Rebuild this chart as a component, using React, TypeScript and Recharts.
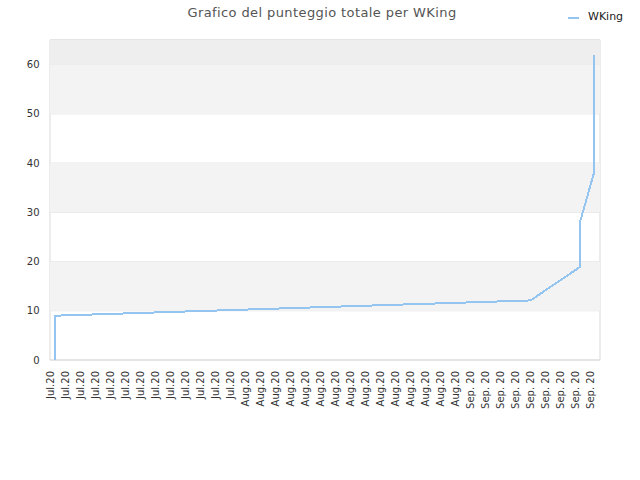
import { LineChart, Line, XAxis, YAxis, CartesianGrid, ReferenceArea, Legend } from "recharts";

// x labels, one per tick (month.year)
const tickLabels = [
  "Jul.20", "Jul.20", "Jul.20", "Jul.20", "Jul.20", "Jul.20", "Jul.20",
  "Jul.20", "Jul.20", "Jul.20", "Jul.20", "Jul.20", "Jul.20",
  "Aug.20", "Aug.20", "Aug.20", "Aug.20", "Aug.20", "Aug.20", "Aug.20", "Aug.20",
  "Aug.20", "Aug.20", "Aug.20", "Aug.20", "Aug.20", "Aug.20", "Aug.20",
  "Sep. 20", "Sep. 20", "Sep. 20", "Sep. 20", "Sep. 20", "Sep. 20", "Sep. 20",
  "Sep. 20", "Sep. 20",
];

// position of each reading along the time axis (in tick units) and its total score
const timePos = [0, 0, 31.7, 35.0, 35.0, 35.93, 35.93, 35.93];
const scores = [0, 9, 12.1, 18.9, 28, 38, 49, 62];

const yTicks = [0, 10, 20, 30, 40, 50, 60];
const yMax = 65;

const data = timePos.map((pos, i) => ({ pos, WKing: scores[i] }));
const xTicks = tickLabels.map((_, i) => i);
// a third of a tick step of free space on either side of the first/last tick
const xPad = 1 / 3;

const XTick = ({ x, y, payload }: any) => {
  const tx = x - 1.5;
  const ty = y + 11;
  return (
    <text x={tx} y={ty} transform={`rotate(-90 ${tx} ${ty})`} textAnchor="end" fontSize={10} fill="#333" fontFamily="DejaVu Sans">
      {tickLabels[payload.value]}
    </text>
  );
};

const YTick = ({ x, y, payload }: any) => (
  <text x={x - 10.5} y={y + 3.5} textAnchor="end" fontSize={10} fill="#333" fontFamily="DejaVu Sans">
    {payload.value}
  </text>
);

const LegendBox = () => (
  <div style={{ display: "flex", alignItems: "center", fontFamily: "DejaVu Sans", fontSize: 11, color: "#222" }}>
    <span style={{ width: 11, height: 2, background: "#94c4f0", marginRight: 9, marginTop: 3 }} />
    <span>WKing</span>
  </div>
);

export default function App() {
  return (
    <div style={{ position: "absolute", left: 0, top: 0, width: 640, height: 480, background: "#fff" }}>
      <style>{`.recharts-line-curve { shape-rendering: crispEdges; }`}</style>
      <div
        style={{
          position: "absolute", top: 5, left: 0, width: 644, textAlign: "center",
          fontFamily: "DejaVu Sans", fontSize: 13, letterSpacing: 0.4, color: "#555",
        }}
      >
        Grafico del punteggio totale per WKing
      </div>
      <LineChart width={640} height={480} data={data} margin={{ top: 40, right: 40, bottom: 60, left: 0 }}>
        {yTicks.filter((_, i) => i % 2 === 1).map((v) => (
          <ReferenceArea key={v} y1={v} y2={v + 10} fill="#f3f3f3" fillOpacity={1} stroke="none" />
        ))}
        <ReferenceArea y1={yTicks[yTicks.length - 1]} y2={yMax} fill="#eeeeee" fillOpacity={1} stroke="none" />
        <CartesianGrid vertical={false} stroke="#e4e4e4" strokeDasharray="" />
        <CartesianGrid
          stroke="#d9d9d9"
          horizontalCoordinatesGenerator={({ offset }: any) => [offset.top, offset.top + offset.height]}
          verticalCoordinatesGenerator={({ offset }: any) => [offset.left, offset.left + offset.width]}
        />
        <XAxis
          dataKey="pos"
          type="number"
          domain={[-xPad, tickLabels.length - 1 + xPad]}
          ticks={xTicks}
          interval={0}
          allowDataOverflow
          axisLine={false}
          tickLine={false}
          tickSize={0}
          tickMargin={0}
          height={60}
          tick={<XTick />}
        />
        <YAxis
          domain={[0, yMax]}
          ticks={yTicks}
          interval={0}
          width={50}
          axisLine={false}
          tickLine={false}
          tickSize={0}
          tickMargin={0}
          tick={<YTick />}
        />
        <Legend
          layout="horizontal"
          verticalAlign="middle"
          align="center"
          content={<LegendBox />}
          wrapperStyle={{ position: "absolute", top: 10, left: 568, width: 70 }}
        />
        <Line
          type="linear"
          dataKey="WKing"
          stroke="#94c4f0"
          strokeWidth={2}
          dot={false}
          isAnimationActive={false}
        />
      </LineChart>
    </div>
  );
}
